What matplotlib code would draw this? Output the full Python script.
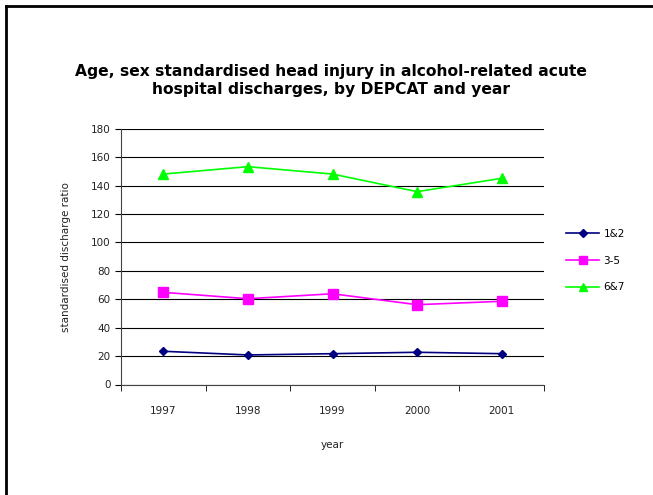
import matplotlib
matplotlib.use("Agg")
import matplotlib.pyplot as plt
from matplotlib.lines import Line2D

# standardised discharge ratios by DEPCAT group
years = ["1997", "1998", "1999", "2000", "2001"]
depcat_1_2 = [23.4, 20.8, 21.7, 22.7, 21.7]
depcat_3_5 = [64.9, 60.4, 63.9, 56.2, 58.6]
depcat_6_7 = [148.2, 153.4, 148.2, 135.8, 145.2]

series_names = ["1&2", "3-5", "6&7"]
series_colors = ["#000080", "#FF00FF", "#00FF00"]
series_markers = ["D", "s", "^"]
series_sizes = [4.5, 6.5, 6.5]

plt.rcParams["font.family"] = ["DejaVu Sans"]

fig = plt.figure(figsize=(6.53, 4.95), dpi=100)
ax = fig.add_axes([121 / 653, 1 - 384.5 / 495, 423 / 653, 255.6 / 495])

x = range(len(years))
for vals, name, col, mk, ms in zip([depcat_1_2, depcat_3_5, depcat_6_7],
                                   series_names, series_colors, series_markers, series_sizes):
    ax.plot(x, vals, color=col, marker=mk, markersize=ms, linewidth=1.2, label=name)

ax.set_xlim(-0.5, len(years) - 0.5)
ax.set_ylim(0, 180)
ax.set_yticks(range(0, 181, 20))
ax.set_xticks(list(x))
ax.set_xticklabels(years)
ax.set_xticks([i - 0.5 for i in range(len(years) + 1)], minor=True)
ax.tick_params(axis="x", which="major", length=0, pad=15.5, labelsize=7.5, colors="#222222")
ax.tick_params(axis="x", which="minor", length=4, direction="out", color="black")
ax.tick_params(axis="y", length=4, direction="out", labelsize=7.5, colors="#222222")
ax.tick_params(axis="y", color="black")

# horizontal gridlines like a spreadsheet chart
ax.yaxis.grid(True, color="black", linewidth=0.8)
ax.set_axisbelow(True)
for side in ["top", "right"]:
    ax.spines[side].set_visible(False)
ax.spines["left"].set_color("#444444")
ax.spines["bottom"].set_color("#444444")

ax.set_ylabel("standardised discharge ratio", fontsize=7.5, color="#222222", labelpad=14)
ax.set_xlabel("year", fontsize=7.5, color="#222222", labelpad=17)

fig.text(331 / 653, 1 - 80.5 / 495,
         "Age, sex standardised head injury in alcohol-related acute\nhospital discharges, by DEPCAT and year",
         ha="center", va="center", fontsize=11.2, fontweight="bold", linespacing=1.3)

leg = ax.legend(loc="center left", bbox_to_anchor=(1.03, 0.485), frameon=False,
                fontsize=7.5, handlelength=3.2, labelspacing=1.6, handletextpad=0.4,
                markerscale=0.85)

# frame edges of the chart area
fig.add_artist(Line2D([6 / 653, 6 / 653], [0, 1 - 6 / 495], color="black", linewidth=2))
fig.add_artist(Line2D([6 / 653, 1], [1 - 6 / 495, 1 - 6 / 495], color="black", linewidth=2))

fig.savefig("out.png", dpi=100)
